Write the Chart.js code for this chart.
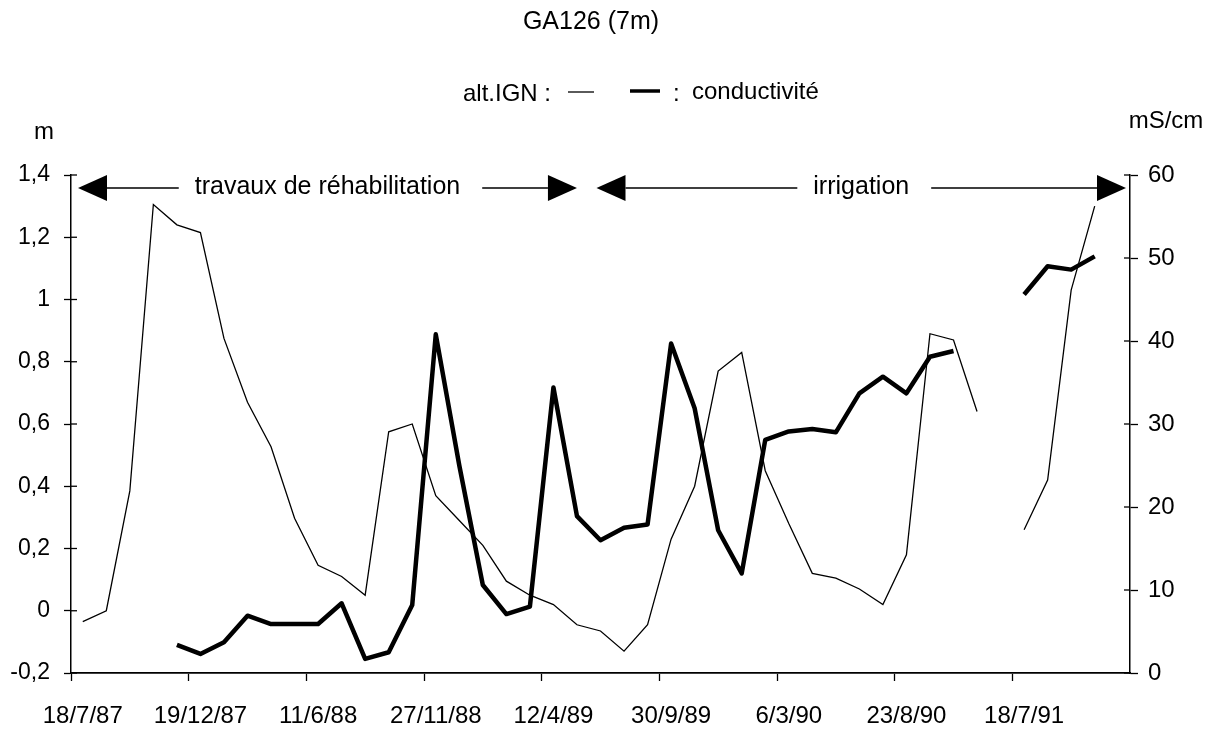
<!DOCTYPE html>
<html>
<head>
<meta charset="utf-8">
<script src="https://cdn.jsdelivr.net/npm/chart.js@4.4.1/dist/chart.umd.min.js"></script>
<style>
  html, body { margin: 0; padding: 0; background: #fff; }
  #wrap { width: 1215px; height: 730px; position: relative; }
</style>
</head>
<body>
<div id="wrap"><canvas id="chart"></canvas></div>
<script>
// dates shown under the axis, one every 5 measurements
const dateLabels = ['18/7/87', '19/12/87', '11/6/88', '27/11/88', '12/4/89', '30/9/89', '6/3/90', '23/8/90', '18/7/91'];

const seriesNames = ['alt.IGN', 'conductivité'];

// niveau (m, axe gauche)
const altIGN = [
  -0.035, 0.0, 0.385, 1.305, 1.24, 1.215, 0.875, 0.67, 0.527, 0.297,
  0.146, 0.11, 0.05, 0.575, 0.60, 0.37, 0.29, 0.21, 0.095, 0.05,
  0.02, -0.045, -0.065, -0.13, -0.045, 0.23, 0.40, 0.77, 0.83, 0.45,
  0.28, 0.12, 0.105, 0.07, 0.02, 0.18, 0.89, 0.87, 0.64, null,
  0.26, 0.42, 1.03, 1.30, null
];

// conductivité (mS/cm, axe droit)
const conductivite = [
  null, null, null, null, 3.4, 2.3, 3.7, 6.9, 5.9, 5.9,
  5.9, 8.4, 1.7, 2.5, 8.2, 40.8, 25, 10.6, 7.1, 8.0,
  34.4, 18.9, 16.0, 17.5, 17.9, 39.7, 31.9, 17.2, 12.0, 28.1,
  29.1, 29.4, 29.0, 33.7, 35.7, 33.7, 38.1, 38.8, null, null,
  45.6, 49.0, 48.6, 50.2, null
];

const periods = [
  { text: 'travaux de réhabilitation', from: -1, to: 21 },
  { text: 'irrigation', from: 22, to: 45 }
];

const labels = altIGN.map((_, i) => (i % 5 === 0 ? dateLabels[i / 5] : ''));

const FONT = '"Liberation Sans", Arial, Helvetica, sans-serif';

function arrowHead(ctx, tipX, y, dir) {
  // dir = -1 : pointe a gauche, 1 : pointe a droite
  ctx.beginPath();
  ctx.moveTo(tipX, y);
  ctx.lineTo(tipX - dir * 29, y - 13);
  ctx.lineTo(tipX - dir * 29, y + 13);
  ctx.closePath();
  ctx.fill();
}

const decorPlugin = {
  id: 'decor',
  afterDraw(chart) {
    const ctx = chart.ctx;
    const area = chart.chartArea;
    const xs = chart.scales.x;
    ctx.save();
    ctx.fillStyle = '#000';
    ctx.strokeStyle = '#000';
    ctx.textBaseline = 'middle';

    // titre
    ctx.font = '25px ' + FONT;
    ctx.textAlign = 'center';
    ctx.fillText('GA126 (7m)', 591, 22);

    // legende
    ctx.font = '24px ' + FONT;
    ctx.textAlign = 'left';
    ctx.fillText(seriesNames[0] + ' :', 463, 94);
    ctx.lineWidth = 1.3;
    ctx.beginPath(); ctx.moveTo(568, 92); ctx.lineTo(594, 92); ctx.stroke();
    ctx.lineWidth = 3.5;
    ctx.beginPath(); ctx.moveTo(630, 91); ctx.lineTo(660, 91); ctx.stroke();
    ctx.fillText(':', 673, 94);
    ctx.fillText(seriesNames[1], 692, 92);

    // unites
    ctx.textAlign = 'center';
    ctx.fillText('m', 44, 132);
    ctx.fillText('mS/cm', 1166, 121);

    // petits traits de graduation cote interieur des axes
    ctx.lineWidth = 1.3;
    ['y', 'y1'].forEach(id => {
      const s = chart.scales[id];
      const x0 = id === 'y' ? area.left : area.right;
      const d = id === 'y' ? 6 : -6;
      s.ticks.forEach(t => {
        const py = s.getPixelForValue(t.value);
        ctx.beginPath(); ctx.moveTo(x0, py); ctx.lineTo(x0 + d, py); ctx.stroke();
      });
    });

    // periodes avec fleches
    const y = area.top + 13;
    ctx.font = '25px ' + FONT;
    ctx.lineWidth = 1.5;
    periods.forEach(p => {
      const left = p.from < 0 ? area.left + 7 : xs.getPixelForValue(p.from) - 4;
      const right = p.to >= labels.length ? area.right - 4 : xs.getPixelForValue(p.to);
      arrowHead(ctx, left, y, -1);
      arrowHead(ctx, right, y, 1);
      const b1 = left + 29, b2 = right - 29;
      const mid = (b1 + b2) / 2;
      const w = ctx.measureText(p.text).width;
      ctx.beginPath();
      ctx.moveTo(b1, y); ctx.lineTo(mid - w / 2 - 16, y);
      ctx.moveTo(mid + w / 2 + 22, y); ctx.lineTo(b2, y);
      ctx.stroke();
      ctx.fillText(p.text, mid, y - 1);
    });
    ctx.restore();
  }
};

new Chart(document.getElementById('chart'), {
  type: 'line',
  data: {
    labels: labels,
    datasets: [
      {
        label: seriesNames[0],
        data: altIGN,
        yAxisID: 'y',
        borderColor: '#000',
        borderWidth: 1.3,
        pointRadius: 0,
        tension: 0,
        spanGaps: false
      },
      {
        label: seriesNames[1],
        data: conductivite,
        yAxisID: 'y1',
        borderColor: '#000',
        borderWidth: 4.5,
        borderJoinStyle: 'round',
        pointRadius: 0,
        tension: 0,
        spanGaps: false
      }
    ]
  },
  options: {
    responsive: true,
    maintainAspectRatio: false,
    animation: false,
    devicePixelRatio: 1,
    layout: { padding: { top: 175, left: 0, right: 0, bottom: 0 } },
    plugins: {
      legend: { display: false },
      tooltip: { enabled: false }
    },
    scales: {
      x: {
        offset: true,
        grid: {
          offset: true,
          drawOnChartArea: false,
          tickLength: 8,
          tickWidth: 1.3,
          tickColor: c => (c.index !== undefined && c.index % 5 === 0 ? '#000' : 'rgba(0,0,0,0)')
        },
        border: { color: '#000', width: 1.8 },
        ticks: {
          autoSkip: false,
          maxRotation: 0,
          padding: 21,
          color: '#000',
          font: { family: FONT, size: 24 }
        },
        afterFit(scale) { scale.height = 57; }
      },
      y: {
        position: 'left',
        min: -0.2,
        max: 1.4,
        ticks: {
          stepSize: 0.2,
          padding: 14,
          color: '#000',
          font: { family: FONT, size: 23 },
          callback: v => String(Number(v.toFixed(1))).replace('.', ',')
        },
        grid: { drawOnChartArea: false, tickLength: 7, tickColor: '#000', tickWidth: 1.3 },
        border: { color: '#000', width: 1.5 },
        afterFit(scale) { scale.width = 71; }
      },
      y1: {
        position: 'right',
        min: 0,
        max: 60,
        ticks: {
          stepSize: 10,
          padding: 10,
          color: '#000',
          font: { family: FONT, size: 24 }
        },
        grid: { drawOnChartArea: false, tickLength: 8, tickColor: '#000', tickWidth: 1.3 },
        border: { color: '#000', width: 1.5 },
        afterFit(scale) { scale.width = 85; }
      }
    }
  },
  plugins: [decorPlugin]
});
</script>
</body>
</html>
